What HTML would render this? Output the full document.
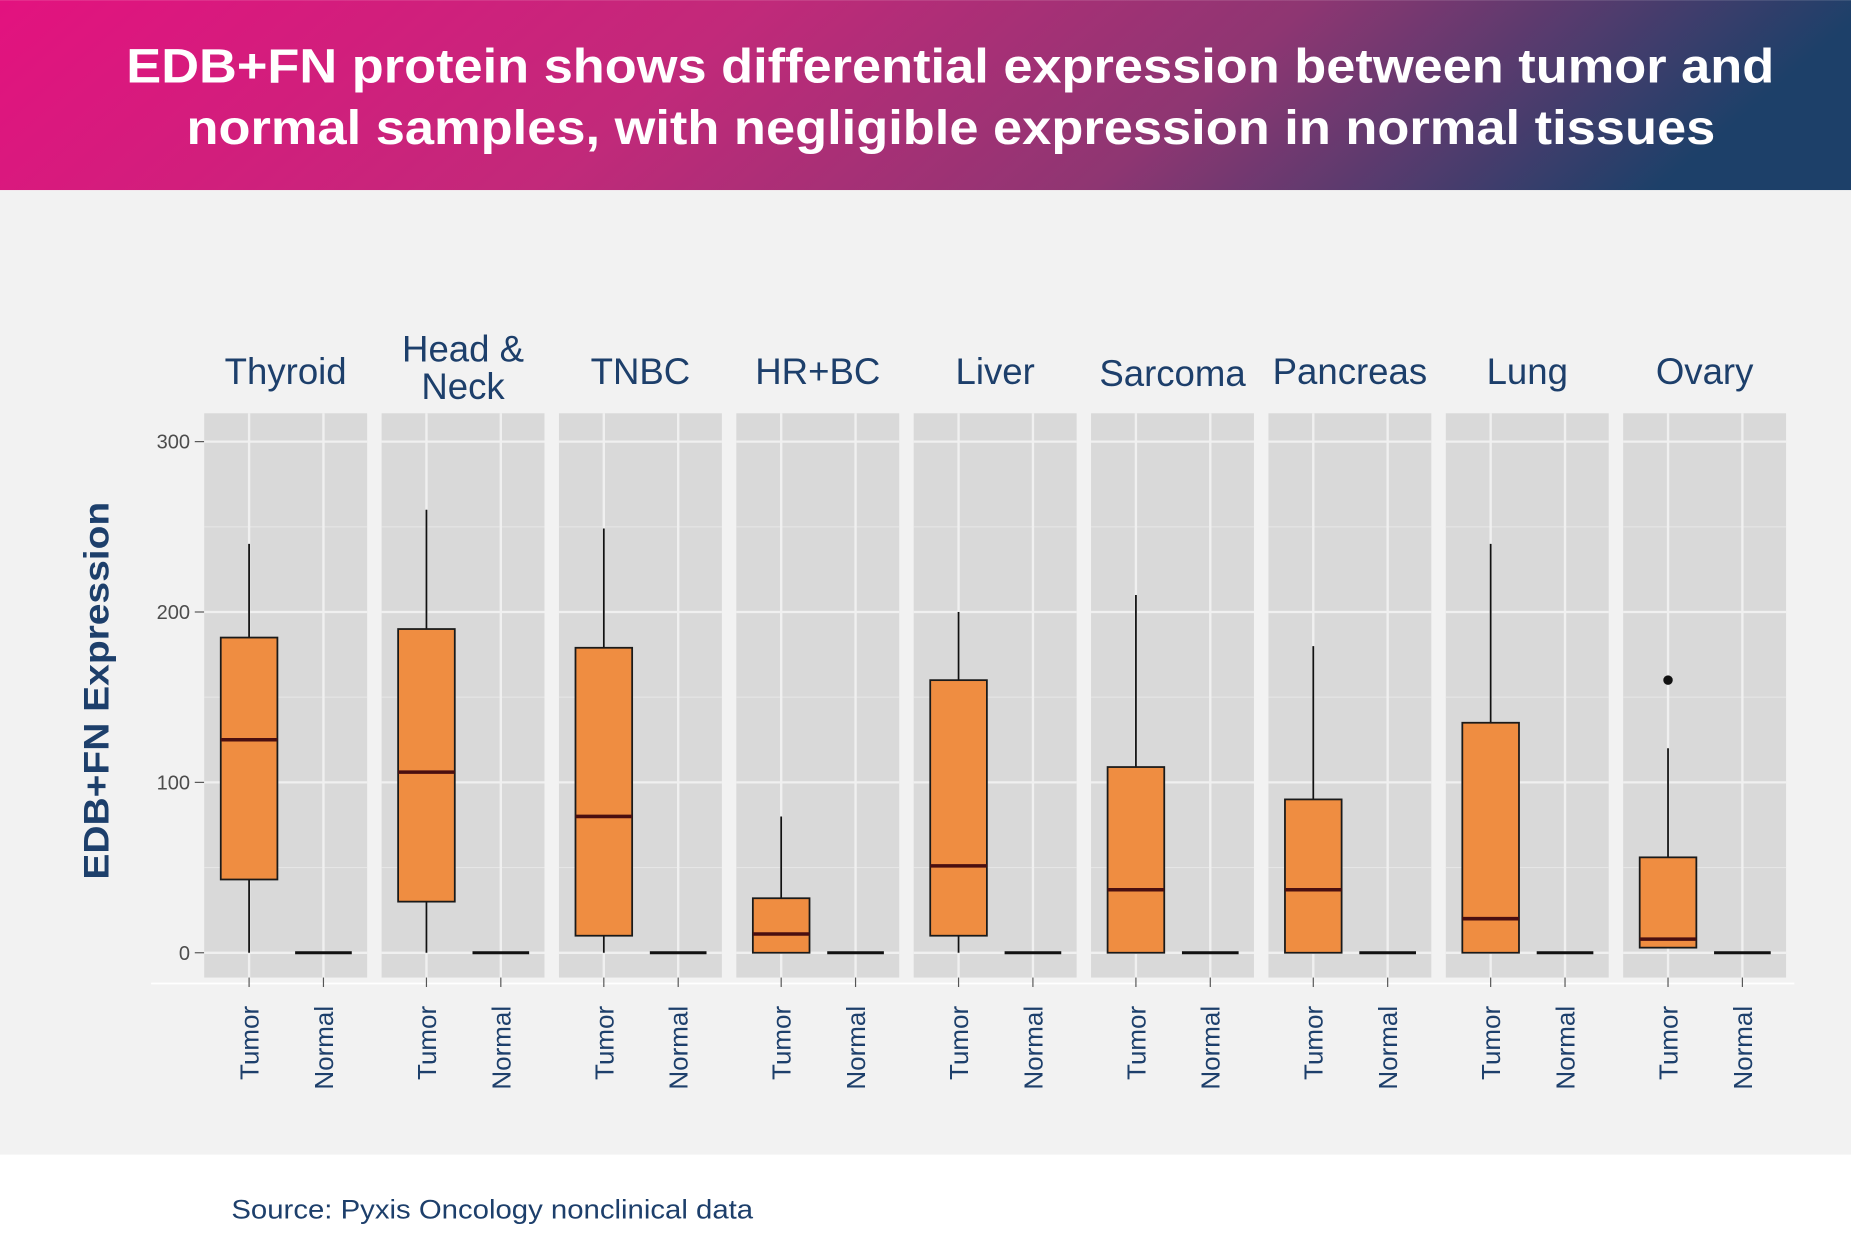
<!DOCTYPE html>
<html><head><meta charset="utf-8"><style>
html,body{margin:0;padding:0;background:#fff;}
svg{display:block;font-family:"Liberation Sans",Arial,sans-serif;}
</style></head><body>
<svg id="chart" width="1851" height="1235" viewBox="0 0 1568 1046">
<defs><linearGradient id="hg" x1="0" y1="0" x2="1" y2="0.12">
<stop offset="0" stop-color="#e3127f"/><stop offset="0.4" stop-color="#c2297a"/><stop offset="0.7" stop-color="#8e3672"/><stop offset="1" stop-color="#1d4069"/></linearGradient></defs>
<rect x="0" y="0" width="1568" height="161" fill="url(#hg)"/>
<text x="107" y="70" textLength="1396" lengthAdjust="spacingAndGlyphs" font-size="41" font-weight="bold" fill="#fff">EDB+FN protein shows differential expression between tumor and</text>
<text x="158" y="122" textLength="1295" lengthAdjust="spacingAndGlyphs" font-size="41" font-weight="bold" fill="#fff">normal samples, with negligible expression in normal tissues</text>
<rect x="0" y="161" width="1568" height="817" fill="#f2f2f2"/>
<text x="196" y="1032" textLength="442" lengthAdjust="spacingAndGlyphs" font-size="23" fill="#1d3f6b">Source: Pyxis Oncology nonclinical data</text>
<text transform="translate(92,745) rotate(-90)" textLength="320" lengthAdjust="spacingAndGlyphs" font-size="30" font-weight="bold" fill="#1d3f6b">EDB+FN Expression</text>
<line x1="128" y1="833" x2="1520" y2="833" stroke="#fff" stroke-width="1.5"/>
<g id="plot"></g>
</svg>
<script>
const categories=["Thyroid","Head & Neck","TNBC","HR+BC","Liver","Sarcoma","Pancreas","Lung","Ovary"];
const tumorLow=[0,0,0,0,0,0,0,0,3];
const tumorQ1=[43,30,10,0,10,0,0,0,3];
const tumorMedian=[125,106,80,11,51,37,37,20,8];
const tumorQ3=[185,190,179,32,160,109,90,135,56];
const tumorHigh=[240,260,249,80,200,210,180,240,120];
const tumorOutliers=[[],[],[],[],[],[],[],[],[160]];
const normalValues=[0,0,0,0,0,0,0,0,0];
const yTicks=[0,100,200,300];
const yMinor=[50,150,250];
const groups=["Tumor","Normal"];

const NS="http://www.w3.org/2000/svg";
const g=document.getElementById('plot');
const y=v=>807-v*1.4433;
const panelX=i=>173+i*150.25;
const PW=138;
function mk(tag,attrs,parent){const e=document.createElementNS(NS,tag);for(const k in attrs)e.setAttribute(k,attrs[k]);(parent||g).appendChild(e);return e;}
yTicks.forEach(t=>{
  const tx=mk('text',{x:161,y:y(t)+6,'text-anchor':'end','font-size':17,fill:'#4d4d4d'});
  tx.textContent=t;
  
  
  const tk=mk('line',{x1:165,x2:173,y1:y(t),y2:y(t),stroke:'#555','stroke-width':1});
  
  
});
categories.forEach((c,i)=>{
  const px=panelX(i);
  const pg=mk('g',{});
  
  
  mk('rect',{x:px,y:350,width:PW,height:478,fill:'#d9d9d9'},pg);
  yMinor.forEach(t=>mk('line',{x1:px,x2:px+PW,y1:y(t),y2:y(t),stroke:'#e6e6e6','stroke-width':1},pg));
  yTicks.forEach(t=>mk('line',{x1:px,x2:px+PW,y1:y(t),y2:y(t),stroke:'#f0f0f0','stroke-width':2},pg));
  const tx=px+38, nx=px+101;
  [tx,nx].forEach(x=>mk('line',{x1:x,x2:x,y1:350,y2:828,stroke:'#f0f0f0','stroke-width':2},pg));
  const cx=px+PW/2;
  if(c==="Head & Neck"){
    let t1=mk('text',{x:cx,y:306,'text-anchor':'middle','font-size':31,fill:'#1d3f6b'});t1.textContent="Head &";
    
    
    let t2=mk('text',{x:cx,y:338,'text-anchor':'middle','font-size':31,fill:'#1d3f6b'});t2.textContent="Neck";
    
    
  } else {
    let t=mk('text',{x:cx,y:c==="Sarcoma"?327:325,'text-anchor':'middle','font-size':31,fill:'#1d3f6b'});t.textContent=c;
    
    
  }
  const b=mk('g',{});
  
  
  mk('line',{x1:tx,x2:tx,y1:y(tumorHigh[i]),y2:y(tumorLow[i]),stroke:'#111','stroke-width':1.5},b);
  mk('rect',{x:tx-24,y:y(tumorQ3[i]),width:48,height:y(tumorQ1[i])-y(tumorQ3[i]),fill:'#ef8d41',stroke:'#1a1a1a','stroke-width':1.5},b);
  mk('line',{x1:tx-24,x2:tx+24,y1:y(tumorMedian[i]),y2:y(tumorMedian[i]),stroke:'#4a0f10','stroke-width':3},b);
  tumorOutliers[i].forEach(v=>{const o=mk('circle',{cx:tx,cy:y(v),r:4,fill:'#111'},b);
    
    });
  const n=mk('line',{x1:nx-24,x2:nx+24,y1:y(normalValues[i]),y2:y(normalValues[i]),stroke:'#111','stroke-width':2.5});
  
  
  [[tx,groups[0]],[nx,groups[1]]].forEach(([x,l])=>{
    mk('line',{x1:x,x2:x,y1:828,y2:836,stroke:'#555','stroke-width':1});
    const t=mk('text',{transform:`translate(${x+8},852) rotate(-90)`,'text-anchor':'end','font-size':22,fill:'#1d3f6b'});
    t.textContent=l;
    
    
  });
});
</script>
</body></html>
